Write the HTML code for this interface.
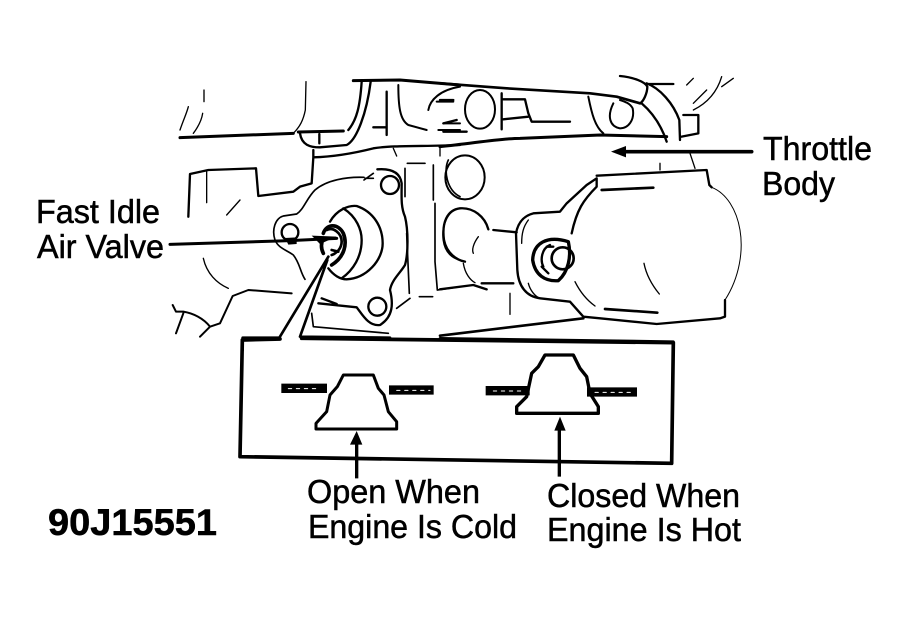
<!DOCTYPE html>
<html><head><meta charset="utf-8"><style>
html,body{margin:0;padding:0;background:#fff;width:908px;height:622px;overflow:hidden}
svg{display:block}
path,circle,ellipse{fill:none;stroke:#000;stroke-linecap:round;stroke-linejoin:round}
text{font-family:"Liberation Sans",sans-serif;fill:#000;font-size:33px;stroke:#000;stroke-width:.5px}
</style></head><body>
<svg width="908" height="622" viewBox="0 0 908 622" xmlns="http://www.w3.org/2000/svg">
<g transform="translate(160,70) scale(.33333)">
<path stroke-width="9" d="M60 203L400 190M415 186L550 183M580 32L720 30L900 45"/>
<path stroke-width="7" d="M420 190C425 225 450 232 480 232L560 225C590 210 620 130 632 35M605 35C600 110 590 150 565 180M478 192V220M680 65V195M640 172H680"/>
<path stroke-width="4" d="M60 180C70 150 80 130 85 110M100 190C115 170 125 150 128 130M438 35L436 120C430 150 420 170 400 190M132 60V95"/>
<path stroke-width="6" d="M715 45C715 110 720 150 745 165L800 180M805 120C810 90 840 60 900 50M830 95H880M850 160H900M835 180H900"/>
<path stroke-width="7" d="M460 240V262C530 260 600 245 640 235C700 225 800 230 900 225M460 262L455 340L420 350L400 365L295 378L288 295L145 300L90 312L85 440"/>
<path stroke-width="4" d="M140 305V398M240 390L200 435M130 565C140 610 170 640 205 655M700 235L710 258M840 232V258"/>
<path stroke-width="6" d="M395 670L265 660L218 678L180 760L150 770L120 800M150 770C130 745 100 730 70 725L48 725L38 705M70 730L48 790"/>
<path stroke-width="5" d="M612 322C560 320 500 330 465 360C440 385 430 420 410 432L370 438C345 445 335 480 345 510C355 535 380 540 400 555C420 580 420 605 435 628M612 330L640 310M615 325H640"/>
<circle cx="390" cy="487" r="25" stroke-width="7"/>
<path stroke-width="7" d="M510 455C530 420 565 405 590 408C640 425 668 470 668 520C668 570 620 625 560 628C540 628 520 615 505 595M550 415C590 440 605 480 605 510C605 560 580 600 545 625"/>
<path stroke-width="11" d="M490 490C500 460 535 460 550 490C562 520 555 560 515 585M490 505C480 525 485 540 490 550"/>
<path stroke-width="8" d="M500 480C520 470 545 490 545 515C545 535 530 550 515 555M515 540L535 545"/>
<path stroke-width="9" d="M30 523L390 512L530 505"/>
<path stroke-width="0" style="fill:#000" d="M375 504L410 502L410 522L385 524ZM455 497L530 500L480 522Z"/>
<path stroke-width="8" d="M505 560L358 803L248 803V840M502 570L420 800L690 803"/>
<path stroke-width="7" d="M652 298C690 295 720 305 725 340C725 380 722 410 735 440C745 480 745 550 735 585C720 610 695 630 690 660C700 700 700 740 660 765C625 770 605 730 590 712L475 700M485 685L530 702"/>
<circle cx="690" cy="345" r="27" stroke-width="7"/>
<circle cx="652" cy="710" r="27" stroke-width="7"/>
<path stroke-width="5" d="M735 295V380M742 280H795M820 285V390M825 400V575L832 660L900 650M865 270C850 300 860 360 900 380M900 415C860 420 845 470 850 510C855 550 880 565 900 570M740 490L748 670M710 715L750 685M778 680H818M455 730L460 770L685 790"/>
</g>
<g transform="translate(440,70) scale(.33333)">
<path stroke-width="8" d="M0 40L200 55L450 70L530 80L600 100"/>
<path stroke-width="7" d="M540 18C580 22 615 35 622 50C622 70 610 95 600 100M620 40C660 55 700 100 718 150L720 210M605 100C640 130 665 170 680 215M620 42H700M730 135H775V190L725 200"/>
<path stroke-width="4" d="M740 45L760 25M760 120C800 100 830 70 845 20M845 50L880 25M760 100L800 60"/>
<ellipse cx="120" cy="118" rx="45" ry="58" stroke-width="6"/>
<path stroke-width="7" d="M185 70V178M190 88L255 88L265 130L275 155H390M190 148L265 140M0 90H40M10 160L50 150M10 185H80"/>
<path stroke-width="6" d="M445 80C455 130 465 170 490 190M520 100C500 140 510 170 540 175C565 175 585 150 578 115C570 100 555 95 540 90"/>
<path stroke-width="9" d="M0 230C100 220 180 205 240 205L480 195L680 200"/>
<path stroke-width="11" d="M545 245H935"/>
<path stroke-width="0" style="fill:#000" d="M513 245L558 228V262Z"/>
<path stroke-width="4" d="M660 280V300M750 250L765 295"/>
<path stroke-width="7" d="M470 317L800 300L808 345L815 352"/>
<path stroke-width="3" d="M815 352C860 370 890 420 900 480C910 540 900 620 855 690"/>
<path stroke-width="7" d="M855 690V740L840 745L650 762L480 745L430 740L390 695L300 685C260 680 235 650 232 600L228 490C235 450 260 435 280 430L360 425L380 400L440 345L470 325V350C430 390 410 420 395 490"/>
<path stroke-width="8" d="M485 360L640 353M495 717L652 728"/>
<path stroke-width="4" d="M405 635C420 665 440 690 465 708M612 580C620 620 640 650 658 672M265 450C250 470 245 490 245 520M265 640C270 660 285 680 300 685"/>
<path stroke-width="8" d="M0 797L430 745M0 805L700 815V840"/>
<ellipse cx="75" cy="322" rx="59" ry="66" stroke-width="6"/>
<path stroke-width="7" d="M145 478C135 440 100 412 60 415C20 420 5 460 12 510C20 550 50 570 75 575M0 658L100 645L140 658M125 640H220M160 480L230 487"/>
<path stroke-width="4" d="M115 500C100 520 95 540 100 550M70 580C75 610 90 630 105 638M210 670V733"/>
<path stroke-width="10" d="M278 570C280 520 320 495 385 515C395 560 385 605 355 632C315 635 285 615 278 570Z"/>
<circle cx="368" cy="565" r="33" stroke-width="8"/>
<path stroke-width="7" d="M330 525C305 535 300 570 310 590M340 530H320M325 610L305 590"/>
</g>
<g transform="translate(230,330) scale(.33333)">
<path stroke-width="11" d="M150 27L37 30L30 380L1325 400L1330 38L215 25"/>
<path stroke-width="9" d="M340 135H430L445 175L462 195L475 245L500 275V297H258V280L290 245L300 195L322 170Z"/>
<path stroke-width="10" d="M945 75H1030L1050 115L1070 140L1080 190L1105 230V250H860V230L890 200L905 130L925 110Z"/>
<path stroke-width="28" style="stroke-linecap:square" d="M168 175H277M491 180H597M781 182H885M1085 186H1207"/>
<path stroke-width="3" style="stroke:#fff" stroke-dasharray="10 14" d="M175 176H270M500 181H600M790 183H880M1095 187H1210"/>
<path stroke-width="10" style="stroke-linecap:butt" d="M380 445V340M988 440V295"/>
<path stroke-width="0" style="fill:#000" d="M380 303L360 344H397ZM990 260L973 302H1007Z"/>
</g>
<text x="36" y="223" textLength="124" lengthAdjust="spacingAndGlyphs">Fast Idle</text>
<text x="37" y="258" textLength="127" lengthAdjust="spacingAndGlyphs">Air Valve</text>
<text x="763" y="160" textLength="109" lengthAdjust="spacingAndGlyphs">Throttle</text>
<text x="762" y="195" textLength="73" lengthAdjust="spacingAndGlyphs">Body</text>
<text x="307" y="503" textLength="173" lengthAdjust="spacingAndGlyphs">Open When</text>
<text x="308" y="538" textLength="209" lengthAdjust="spacingAndGlyphs">Engine Is Cold</text>
<text x="547" y="507" textLength="193" lengthAdjust="spacingAndGlyphs">Closed When</text>
<text x="547" y="541" textLength="194" lengthAdjust="spacingAndGlyphs">Engine Is Hot</text>
<text x="48" y="535" textLength="169" lengthAdjust="spacingAndGlyphs" style="font-weight:bold;font-size:37px">90J15551</text>
</svg>
</body></html>
